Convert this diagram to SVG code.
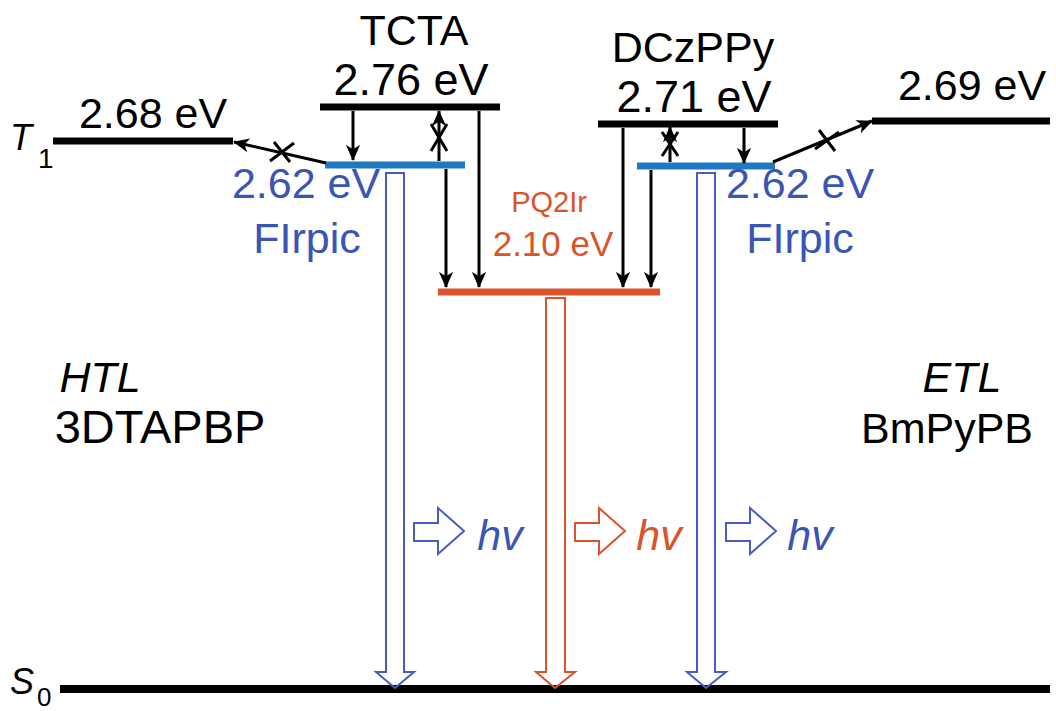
<svg xmlns="http://www.w3.org/2000/svg" width="1056" height="711" viewBox="0 0 1056 711">
<style>
text{font-family:"Liberation Sans",Arial,sans-serif;font-size:43px;text-anchor:middle}
.k{fill:#000}
.b{fill:#3a55b4}
.o{fill:#d9542b}
.it{font-style:italic}
.lvl{stroke:#000;stroke-width:7;fill:none}
.ar{stroke:#000;stroke-width:3;fill:none}
.hb{fill:none;stroke:#4a5cc4;stroke-width:2}
.ho{fill:none;stroke:#d9542b;stroke-width:2}
</style>
<defs>
<marker id="ah" markerWidth="16" markerHeight="18" viewBox="0 0 18 16" refX="17" refY="8" orient="auto" markerUnits="userSpaceOnUse">
<path d="M0,0 L18,8 L0,16 L5,8 z" fill="#000"/>
</marker>
</defs>
<rect width="1056" height="711" fill="#fff"/>

<g id="levels">
<line class="lvl" x1="53" y1="141" x2="233" y2="141"/>
<line class="lvl" x1="320" y1="107" x2="500" y2="107"/>
<line class="lvl" x1="598" y1="124" x2="778" y2="124"/>
<line class="lvl" x1="872" y1="121" x2="1050" y2="121"/>
<line x1="325" y1="165" x2="465" y2="165" stroke="#1f78c1" stroke-width="7"/>
<line x1="637" y1="166" x2="775" y2="166" stroke="#1f78c1" stroke-width="7"/>
<line x1="438" y1="292" x2="660" y2="292" stroke="#d9542b" stroke-width="7"/>
<line x1="60" y1="689" x2="1050" y2="689" stroke="#000" stroke-width="8"/>
</g>

<g id="labels">
<text class="k" x="414" y="45">TCTA</text>
<text class="k" x="411" y="95" style="font-size:45px">2.76 eV</text>
<text class="k" x="693" y="62">DCzPPy</text>
<text class="k" x="694" y="112" style="font-size:45px">2.71 eV</text>
<text class="k" x="153" y="128">2.68 eV</text>
<text class="k" x="972" y="100">2.69 eV</text>
<text class="b" x="306" y="198">2.62 eV</text>
<text class="b" x="307" y="253">FIrpic</text>
<text class="b" x="800" y="198">2.62 eV</text>
<text class="b" x="800" y="253">FIrpic</text>
<text class="o" x="549" y="212" style="font-size:29px">PQ2Ir</text>
<text class="o" x="553" y="256" style="font-size:35px">2.10 eV</text>
<text class="k it" x="100" y="392">HTL</text>
<text class="k" x="160" y="443" style="font-size:47px">3DTAPBP</text>
<text class="k it" x="962" y="392">ETL</text>
<text class="k" x="947" y="443">BmPyPB</text>
<text class="k" x="10" y="150" style="text-anchor:start;font-size:36px;font-style:italic">T</text>
<text class="k" x="38" y="168" style="text-anchor:start;font-size:28px">1</text>
<text class="k" x="10" y="694" style="text-anchor:start;font-size:36px;font-style:italic">S</text>
<text class="k" x="37" y="706" style="text-anchor:start;font-size:26px">0</text>
<text class="b it" x="500" y="550">hv</text>
<text class="o it" x="659" y="550">hv</text>
<text class="b it" x="810" y="550">hv</text>
</g>

<g id="connectors">
<line class="ar" x1="353" y1="111" x2="353" y2="160" marker-end="url(#ah)"/>
<line class="ar" x1="439" y1="161" x2="439" y2="111" marker-end="url(#ah)"/>
<path class="ar" d="M431,124 L447,151 M447,124 L431,151" stroke-width="2"/>
<line class="ar" x1="479" y1="111" x2="479" y2="287" marker-end="url(#ah)"/>
<line class="ar" x1="446" y1="169" x2="446" y2="287" marker-end="url(#ah)"/>
<line class="ar" x1="623" y1="128" x2="623" y2="287" marker-end="url(#ah)"/>
<line class="ar" x1="651" y1="170" x2="651" y2="287" marker-end="url(#ah)"/>
<line class="ar" x1="670" y1="162" x2="670" y2="127" marker-end="url(#ah)"/>
<path class="ar" d="M662,132 L678,156 M678,132 L662,156" stroke-width="2"/>
<line class="ar" x1="744" y1="128" x2="744" y2="163" marker-end="url(#ah)"/>
<line class="ar" x1="326" y1="163" x2="234" y2="142" marker-end="url(#ah)"/>
<path class="ar" d="M274,142 L290,162 M294,143 L270,161" stroke-width="2"/>
<line class="ar" x1="773" y1="162" x2="872" y2="121" marker-end="url(#ah)"/>
<path class="ar" d="M819,130 L835,151 M839,132 L815,149" stroke-width="2"/>

<path class="hb" d="M386,173 L404,173 L404,672 L414,672 L395,688 L376,672 L386,672 Z"/>
<path class="ho" d="M546,298 L565,298 L565,672 L575,672 L555,688 L536,672 L546,672 Z"/>
<path class="hb" d="M697,173 L715,173 L715,672 L726,672 L706,688 L687,672 L697,672 Z"/>

<path class="hb" d="M414,523 L438,523 L438,508 L464,531 L438,554 L438,541 L414,541 Z"/>
<path class="ho" d="M575,523 L599,523 L599,508 L625,531 L599,554 L599,541 L575,541 Z"/>
<path class="hb" d="M726,523 L750,523 L750,508 L776,531 L750,554 L750,541 L726,541 Z"/>
</g>
</svg>
